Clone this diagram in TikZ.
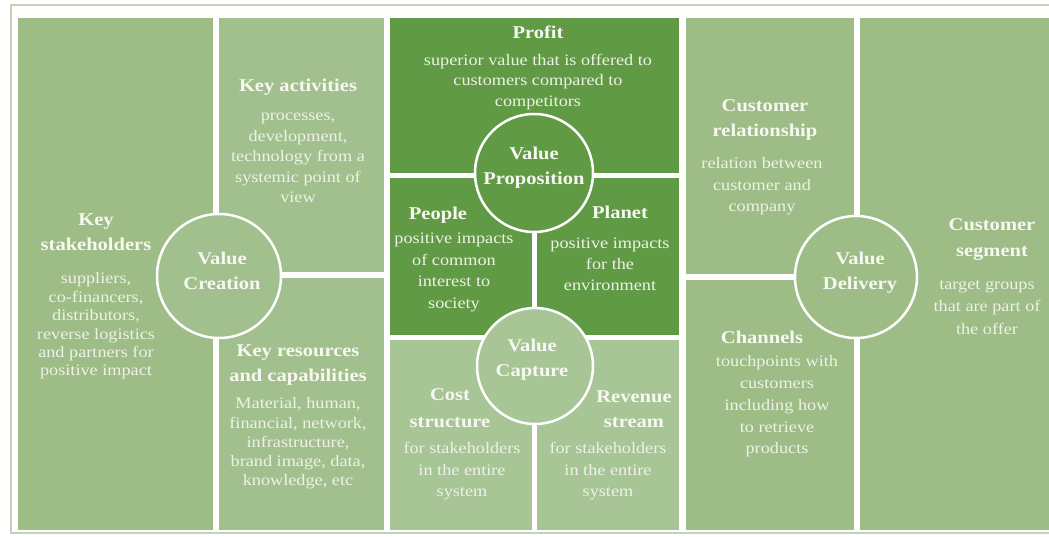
\documentclass[tikz,border=0pt]{standalone}
\usepackage{fontspec}
\setmainfont{Liberation Serif}[FakeStretch=1.14]

\definecolor{cellgreen}{HTML}{9DBC86}
\definecolor{actgreen}{HTML}{A2C08D}
\definecolor{capgreen}{HTML}{A8C596}
\definecolor{propgreen}{HTML}{609A44}
\definecolor{framegreen}{HTML}{C3D2B8}
\definecolor{txtwhite}{HTML}{F7F8F1}
\definecolor{descwhite}{HTML}{EEF2E6}

\tikzset{
  title/.style={font=\bfseries\fontsize{18}{25}\selectfont, text=txtwhite, align=center, inner sep=0pt},
  desc/.style={font=\fontsize{16}{20.5}\selectfont, text=descwhite, align=center, inner sep=0pt},
  hub/.style={circle, draw=white, line width=2.5pt, inner sep=0pt}
}

\begin{document}
\begin{tikzpicture}[x=1pt,y=-1pt]
\useasboundingbox (0,0) rectangle (1049,537);
\fill[white] (0,0) rectangle (1049,537);
\draw[framegreen, line width=1.5pt] (11,5) rectangle (1060,533);
% value creation side
\fill[cellgreen] (18,18) rectangle (213,530);
\fill[actgreen] (219,18) rectangle (384,272);
\fill[actgreen] (219,278) rectangle (384,530);
% value proposition / capture
\fill[propgreen] (390,18) rectangle (679,173);
\fill[propgreen] (390,178) rectangle (532,335);
\fill[propgreen] (537,178) rectangle (679,335);
\fill[capgreen] (390,340) rectangle (532,530);
\fill[capgreen] (537,340) rectangle (679,530);
% value delivery side
\fill[cellgreen] (686,18) rectangle (854,274);
\fill[cellgreen] (686,280) rectangle (854,530);
\fill[cellgreen] (860,18) rectangle (1049,530);

% hubs
\node[hub, fill=actgreen, minimum size=124pt] (create) at (219,276) {};
\node[hub, fill=propgreen, minimum size=118pt] (prop) at (534,173) {};
\node[hub, fill=capgreen, minimum size=116pt] (capture) at (535,366) {};
\node[hub, fill=cellgreen, minimum size=122pt] (deliver) at (856,277) {};
\node[title] (createT) at (222,270.5) {Value\\Creation};
\node[title] (propT) at (534,167.5) {Value\\Proposition};
\node[title] (captureT) at (532,359.5) {Value\\Capture};
\node[title] (deliverT) at (860,272.5) {Value\\Delivery};

% cell texts
\node[title] (stakeT) at (96,232.5) {Key\\stakeholders};
\node[desc, font=\fontsize{16}{18.4}\selectfont] (stakeD) at (96,326) {suppliers,\\co-financers,\\distributors,\\reverse logistics\\and partners for\\positive impact};
\node[title] (actT) at (298,87) {Key activities};
\node[desc] (actD) at (298,158) {processes,\\development,\\technology from a\\systemic point of\\view};
\node[title] (resT) at (298,365.5) {Key resources\\and capabilities};
\node[desc, font=\fontsize{16}{19.2}\selectfont] (resD) at (298,443.5) {Material, human,\\financial, network,\\infrastructure,\\brand image, data,\\knowledge, etc};
\node[title] (profT) at (538,32) {Profit};
\node[desc] (profD) at (538,82) {superior value that is offered to\\customers compared to\\competitors};
\node[title] (peopT) at (438,215) {People};
\node[desc, font=\fontsize{16}{21.7}\selectfont] (peopD) at (454,272.5) {positive impacts\\of common\\interest to\\society};
\node[title] (planT) at (620,212) {Planet};
\node[desc, font=\fontsize{16}{21}\selectfont] (planD) at (610,264) {positive impacts\\for the\\environment};
\node[title, font=\bfseries\fontsize{18}{27}\selectfont] (costT) at (450,408.5) {Cost\\structure};
\node[desc, font=\fontsize{16}{21.5}\selectfont] (costD) at (462,471.5) {for stakeholders\\in the entire\\system};
\node[title] (revT) at (634,409.5) {Revenue\\stream};
\node[desc, font=\fontsize{16}{21.5}\selectfont] (revD) at (608,471.5) {for stakeholders\\in the entire\\system};
\node[title] (relT) at (765,119.5) {Customer\\relationship};
\node[desc, font=\fontsize{16}{21.5}\selectfont] (relD) at (762,186.5) {relation between\\customer and\\company};
\node[title] (chanT) at (762,337) {Channels};
\node[desc, font=\fontsize{16}{21.75}\selectfont] (chanD) at (777,406.5) {touchpoints with\\customers\\including how\\to retrieve\\products};
\node[title, font=\bfseries\fontsize{18}{26}\selectfont] (segT) at (992,240) {Customer\\segment};
\node[desc, font=\fontsize{16}{22.5}\selectfont] (segD) at (987,307.5) {target groups\\that are part of\\the offer};
\end{tikzpicture}
\end{document}
